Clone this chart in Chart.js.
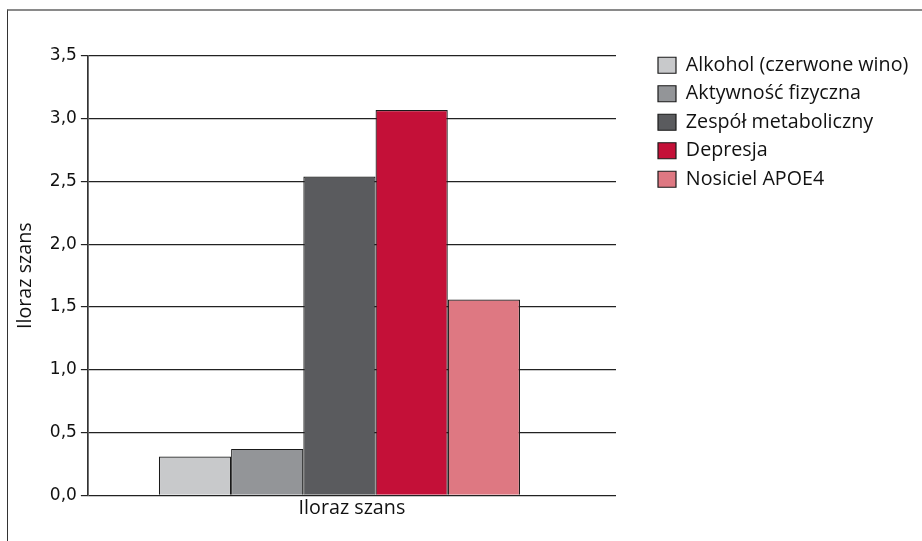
<!DOCTYPE html>
<html>
<head>
<meta charset="utf-8">
<script src="https://cdn.jsdelivr.net/npm/chart.js@4/dist/chart.umd.min.js"></script>
<style>
  html, body { margin: 0; padding: 0; background: #fff; overflow: hidden; }
  #wrap { position: relative; width: 922px; height: 541px; }
  #frame { position: absolute; left: 7px; top: 9px; right: -5px; bottom: -5px;
           border-top: 2px solid #8a8a8a; border-left: 1px solid #333; pointer-events: none; }
</style>
</head>
<body>
<div id="wrap">
  <canvas id="chart" width="922" height="541"></canvas>
  <div id="frame"></div>
</div>
<script>
const categories = ['Iloraz szans'];
const seriesNames = ['Alkohol (czerwone wino)', 'Aktywność fizyczna', 'Zespół metaboliczny', 'Depresja', 'Nosiciel APOE4'];
const seriesValues = [0.31, 0.37, 2.54, 3.07, 1.56];
const seriesColors = ['#c8c9cb', '#939598', '#5a5b5e', '#c41038', '#de7882'];
const yTickLabels = ['0,0', '0,5', '1,0', '1,5', '2,0', '2,5', '3,0', '3,5'];
const yTitle = 'Iloraz szans';

const textFont = { family: 'Open Sans', size: 19.7 };

// the original puts the legend a bit away from the plot and the bar group
// slightly left of the plot centre, so nudge those after layout
const nudge = {
  id: 'nudge',
  afterLayout(chart) {
    const lg = chart.legend;
    lg.left += 33.2;
    lg.right = chart.width;
    lg.width = lg.right - lg.left;
    lg.top -= 9.4;
    lg.bottom -= 9.4;
    const xb = chart.scales.xb;
    xb.right -= 25;
    xb.width -= 25;
    xb.configure();
  }
};

new Chart(document.getElementById('chart'), {
  type: 'bar',
  data: {
    labels: categories,
    datasets: seriesNames.map((name, i) => ({
      label: name,
      data: [seriesValues[i]],
      backgroundColor: seriesColors[i],
      borderColor: '#1a1a1a',
      borderWidth: 1.2,
      xAxisID: 'xb',
      barPercentage: 1,
      categoryPercentage: 0.7177
    }))
  },
  options: {
    responsive: false,
    animation: false,
    layout: { padding: { left: 4, top: 56, right: 46, bottom: 20 } },
    plugins: {
      tooltip: { enabled: false },
      legend: {
        position: 'right',
        align: 'start',
        maxWidth: 260,
        labels: {
          font: textFont,
          color: '#111',
          boxWidth: 18,
          boxHeight: 16,
          padding: 8.8
        }
      }
    },
    scales: {
      x: {
        type: 'category',
        grid: { display: false, drawTicks: false },
        border: { display: false },
        ticks: { font: textFont, color: '#111', padding: 1 }
      },
      xb: {
        type: 'category',
        display: false
      },
      y: {
        min: 0,
        max: 3.5,
        ticks: {
          stepSize: 0.5,
          font: { family: 'DejaVu Sans', size: 17 },
          color: '#111',
          padding: 4,
          callback: (v, i) => yTickLabels[i]
        },
        grid: { color: '#222', lineWidth: 1.2, tickLength: 7, tickColor: '#222' },
        border: { color: '#333', width: 1.7 },
        title: {
          display: true,
          text: yTitle,
          font: textFont,
          color: '#111',
          padding: { top: 9.7, bottom: 8.5 }
        }
      }
    }
  },
  plugins: [nudge]
});
</script>
</body>
</html>
